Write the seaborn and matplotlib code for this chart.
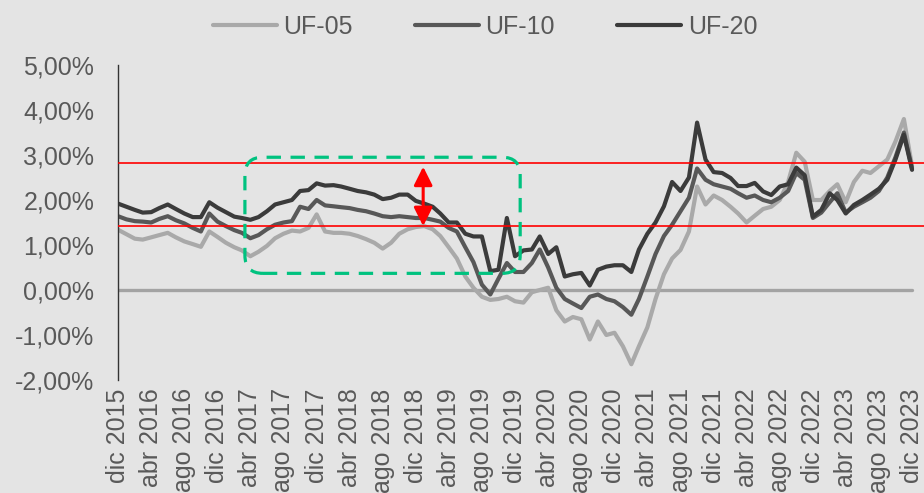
import matplotlib
matplotlib.use("Agg")
import matplotlib.pyplot as plt
import matplotlib.dates as mdates
from matplotlib.patches import FancyBboxPatch
import pandas as pd
import seaborn as sns

# Monthly yields (%), Dec 2015 - Dec 2023
uf05 = [1.34, 1.24, 1.14, 1.12, 1.17, 1.22, 1.27, 1.17, 1.08, 1.02, 0.96, 1.30,
        1.18, 1.05, 0.95, 0.88, 0.75, 0.85, 0.98, 1.15, 1.25, 1.32, 1.30, 1.38,
        1.68, 1.30, 1.27, 1.27, 1.25, 1.20, 1.13, 1.05, 0.92, 1.05, 1.25, 1.35,
        1.40, 1.42, 1.35, 1.20, 0.95, 0.70, 0.30, 0.05, -0.15, -0.22, -0.20, -0.15,
        -0.25, -0.28, -0.05, 0.00, 0.05, -0.45, -0.70, -0.60, -0.65, -1.10, -0.70, -1.00,
        -0.95, -1.25, -1.65, -1.25, -0.83, -0.20, 0.35, 0.70, 0.89, 1.30, 2.30, 1.90,
        2.10, 2.00, 1.85, 1.70, 1.50, 1.65, 1.80, 1.85, 2.00, 2.40, 3.05, 2.85,
        2.00, 2.00, 2.20, 2.35, 1.95, 2.40, 2.65, 2.60, 2.75, 2.90, 3.30, 3.80,
        2.75]
uf10 = [1.64, 1.57, 1.53, 1.52, 1.50, 1.58, 1.64, 1.55, 1.48, 1.38, 1.30, 1.70,
        1.52, 1.42, 1.33, 1.27, 1.15, 1.22, 1.35, 1.45, 1.50, 1.53, 1.85, 1.80,
        2.00, 1.88, 1.86, 1.84, 1.82, 1.78, 1.75, 1.70, 1.64, 1.62, 1.64, 1.62,
        1.60, 1.60, 1.56, 1.52, 1.38, 1.30, 0.95, 0.62, 0.12, -0.10, 0.25, 0.60,
        0.40, 0.40, 0.60, 0.90, 0.50, 0.05, -0.20, -0.30, -0.40, -0.15, -0.10, -0.20,
        -0.25, -0.38, -0.55, -0.20, 0.30, 0.80, 1.20, 1.45, 1.75, 2.05, 2.70, 2.45,
        2.35, 2.30, 2.25, 2.15, 2.05, 2.10, 2.00, 1.95, 2.05, 2.20, 2.60, 2.45,
        1.60, 1.72, 1.95, 2.15, 1.72, 1.85, 1.95, 2.05, 2.20, 2.50, 2.95, 3.50,
        2.70]
uf20 = [1.92, 1.85, 1.78, 1.72, 1.73, 1.82, 1.90, 1.80, 1.70, 1.62, 1.62, 1.95,
        1.83, 1.73, 1.63, 1.60, 1.56, 1.62, 1.75, 1.90, 1.95, 2.00, 2.20, 2.22,
        2.37, 2.32, 2.33, 2.30, 2.25, 2.20, 2.17, 2.12, 2.02, 2.05, 2.12, 2.12,
        1.98, 1.92, 1.85, 1.70, 1.50, 1.50, 1.25, 1.19, 1.19, 0.42, 0.45, 1.60,
        0.75, 0.88, 0.90, 1.19, 0.80, 0.95, 0.30, 0.35, 0.38, 0.10, 0.45, 0.52,
        0.55, 0.55, 0.40, 0.90, 1.25, 1.50, 1.86, 2.40, 2.20, 2.50, 3.72, 2.90,
        2.62, 2.60, 2.49, 2.31, 2.31, 2.38, 2.19, 2.11, 2.30, 2.35, 2.72, 2.55,
        1.63, 1.78, 2.15, 2.00, 1.70, 1.89, 2.00, 2.12, 2.25, 2.45, 2.90, 3.45,
        2.67]

series_names = ["UF-05", "UF-10", "UF-20"]
tick_labels = ["dic 2015", "abr 2016", "ago 2016", "dic 2016", "abr 2017",
               "ago 2017", "dic 2017", "abr 2018", "ago 2018", "dic 2018",
               "abr 2019", "ago 2019", "dic 2019", "abr 2020", "ago 2020",
               "dic 2020", "abr 2021", "ago 2021", "dic 2021", "abr 2022",
               "ago 2022", "dic 2022", "abr 2023", "ago 2023", "dic 2023"]
band_levels = [2.83, 1.42]

dates = pd.date_range("2015-12-01", "2023-12-01", freq="MS")
tick_dates = pd.date_range("2015-12-01", periods=len(tick_labels), freq="4MS")

df = pd.concat([
    pd.DataFrame({"fecha": dates, "valor": vals, "serie": name})
    for name, vals in zip(series_names, [uf05, uf10, uf20])
], ignore_index=True)

BG = "#e4e4e4"
TEXT = "#595959"
sns.set_theme(style="white")
plt.rcParams["font.family"] = ["Liberation Sans", "DejaVu Sans"]

fig = plt.figure(figsize=(9.24, 4.93), dpi=100, facecolor=BG)
ax = fig.add_axes([118 / 924, 113 / 493, 806 / 924, 315 / 493])
ax.set_facecolor(BG)

# zero reference line
ax.plot([dates[0], dates[-1]], [0, 0], color="#a3a3a3", lw=2.4, zorder=1)

palette = {"UF-05": "#a9a9a9", "UF-10": "#585858", "UF-20": "#3b3b3b"}
sns.lineplot(data=df, x="fecha", y="valor", hue="serie", palette=palette,
             linewidth=3, ax=ax, zorder=2)

for lvl in band_levels:
    ax.axhline(lvl, color="red", lw=1.2, zorder=3)

ax.set_xlim(pd.Timestamp("2015-12-01"), pd.Timestamp("2024-01-14"))
ax.set_ylim(-2, 5)

ax.set_yticks(range(-2, 6))
ax.set_yticklabels([f"{v:.2f}".replace(".", ",") + "%" for v in range(-2, 6)])
ax.set_xticks(tick_dates)
ax.set_xticklabels(tick_labels, rotation=90)
ax.tick_params(axis="y", length=0, pad=17, labelsize=18, labelcolor=TEXT)
ax.tick_params(axis="x", length=0, pad=6, labelsize=18, labelcolor=TEXT)
ax.set_xlabel("")
ax.set_ylabel("")
for side in ["top", "right", "bottom"]:
    ax.spines[side].set_visible(False)
ax.spines["left"].set_color("#333333")
ax.spines["left"].set_linewidth(1.0)

# highlighted window (rounded dashed box), corners kept round in pixel space
x0 = mdates.date2num(pd.Timestamp("2017-03-12"))
x1 = mdates.date2num(pd.Timestamp("2019-12-20"))
y0, y1 = 0.37, 2.95
fig.canvas.draw()
pa = ax.transData.transform((x0, y0))
pb = ax.transData.transform((x1, y1))
px_x = (pb[0] - pa[0]) / (x1 - x0)
px_y = (pb[1] - pa[1]) / (y1 - y0)
radius = 18 / px_x
box = FancyBboxPatch((x0, y0), x1 - x0, y1 - y0,
                     boxstyle=f"round,pad=0,rounding_size={radius}",
                     mutation_aspect=px_x / px_y,
                     facecolor="none", edgecolor="#00c27f", lw=2.3,
                     ls=(0, (4.5, 3)), zorder=5)
ax.add_patch(box)

# spread arrow between the two reference levels
arrow_date = pd.Timestamp("2018-12-28")
ax.annotate("", xy=(arrow_date, band_levels[1]), xytext=(arrow_date, 2.74),
            arrowprops=dict(arrowstyle="<|-|>,head_length=0.8,head_width=0.4",
                            color="red", lw=2.2, mutation_scale=14,
                            shrinkA=0, shrinkB=0), zorder=6)

sns.move_legend(ax, "upper center", bbox_to_anchor=(0.525, 1.015),
                bbox_transform=fig.transFigure, ncol=3, frameon=False,
                title=None, fontsize=18, handlelength=2.56,
                handletextpad=0.25, columnspacing=2.5)
for t in ax.get_legend().get_texts():
    t.set_color(TEXT)

fig.savefig("out.png", dpi=100, facecolor=BG)
